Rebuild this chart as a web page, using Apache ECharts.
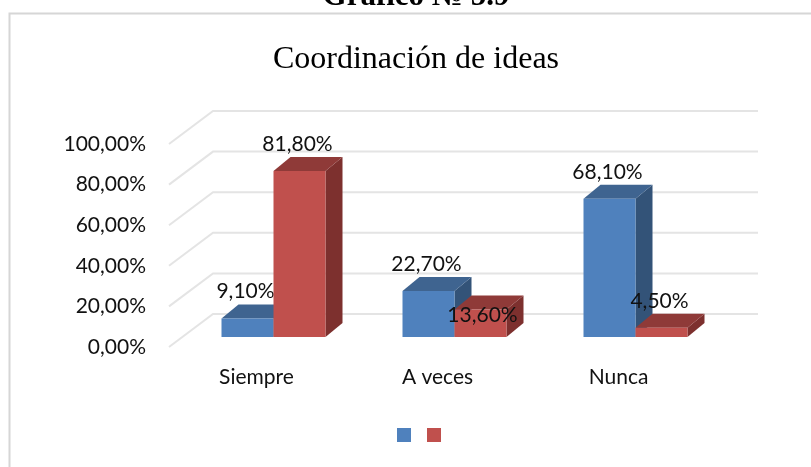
<!DOCTYPE html>
<html>
<head>
<meta charset="utf-8">
<style>html,body{margin:0;padding:0;background:#fff}#c{width:811px;height:467px}</style>
<script src="https://cdn.jsdelivr.net/npm/echarts@6/dist/echarts.min.js"></script>
</head>
<body>
<div id="c"></div>
<script>
const categories = ['Siempre', 'A veces', 'Nunca'];
const seriesA = [9.1, 22.7, 68.1];
const seriesB = [81.8, 13.6, 4.5];
const gridTicks = [0, 20, 40, 60, 80, 100];
const heading = 'Gráfico № 5.9';
const chartTitle = 'Coordinación de ideas';

const uiFont = 'Lato';
const palette = [
  {front: '#4f81bd', top: '#3f6490', side: '#335378'},
  {front: '#c0504d', top: '#8f3a38', side: '#7d302e'}
];
const BAR_W = 52, BAR_DX = 17, BAR_DY = -10, DEPTH_X = 17, DEPTH_Y = -14, WALL_DX = 47, WALL_DY = -33;

const fmt = v => v.toFixed(2).replace('.', ',') + '%';

function barRenderer(s) {
  return function (params, api) {
    const idx = api.value(0), val = api.value(1);
    const top = api.coord([idx, val]);
    const base = api.coord([idx, 0]);
    const c = palette[s];
    const x0 = top[0] + BAR_DX + (s === 0 ? -BAR_W : 0);
    const x1 = x0 + BAR_W;
    const yT = top[1] + BAR_DY;
    const yB = base[1] + BAR_DY;
    const dx = DEPTH_X, dy = DEPTH_Y;
    const moved = s === 1 && idx === 1;
    return {
      type: 'group',
      children: [
        {type: 'polygon', shape: {points: [[x1, yT], [x1 + dx, yT + dy], [x1 + dx, yB + dy], [x1, yB]]}, style: {fill: c.side}},
        {type: 'polygon', shape: {points: [[x0, yT], [x0 + dx, yT + dy], [x1 + dx, yT + dy], [x1, yT]]}, style: {fill: c.top}},
        {type: 'rect', shape: {x: x0, y: yT, width: BAR_W, height: yB - yT}, style: {fill: c.front}},
        {type: 'text', z2: 50, style: {
          x: (x0 + x1) / 2 + (moved ? 2 : -2), y: moved ? yT + 6 : yT - 27,
          text: fmt(val), align: 'center', verticalAlign: 'middle',
          font: '21px ' + uiFont, fill: '#111'
        }}
      ]
    };
  };
}

function wallRenderer(params, api) {
  const y = api.coord([0, api.value(0)])[1];
  const sys = params.coordSys;
  const xL = sys.x + 3;
  const xB = sys.x + WALL_DX;
  return {
    type: 'polyline',
    shape: {points: [[xL, y], [xB, y + WALL_DY], [sys.x + sys.width + WALL_DX + 2, y + WALL_DY]]},
    style: {stroke: '#e4e4e4', lineWidth: 2, fill: null}
  };
}

const chart = echarts.init(document.getElementById('c'), null, {renderer: 'canvas'});
chart.setOption({
  animation: false,
  backgroundColor: '#fff',
  title: [
    {text: heading, left: 411, top: -24, textAlign: 'center',
      textStyle: {fontFamily: 'Liberation Serif', fontWeight: 'bold', fontSize: 31, color: '#000'}},
    {text: chartTitle, left: 411, top: 39, textAlign: 'center',
      textStyle: {fontFamily: 'Liberation Serif', fontWeight: 'normal', fontSize: 32, color: '#000'}}
  ],
  grid: {left: 166, width: 543, top: 144, height: 203},
  xAxis: {
    type: 'category', data: categories,
    axisLine: {show: false}, axisTick: {show: false}, splitLine: {show: false},
    axisLabel: {margin: 20, fontFamily: uiFont, fontSize: 21, color: '#111'}
  },
  yAxis: {
    type: 'value', min: 0, max: 100, interval: 20,
    axisLine: {show: false}, axisTick: {show: false}, splitLine: {show: false},
    axisLabel: {margin: 20, fontFamily: uiFont, fontSize: 21, color: '#111', formatter: v => fmt(v)}
  },
  legend: {
    left: 392, top: 423, itemWidth: 14, itemHeight: 14, itemGap: 16,
    icon: 'rect', formatter: () => '', data: ['Serie 1', 'Serie 2'],
    textStyle: {fontSize: 1}
  },
  graphic: [
    {type: 'polyline', silent: true, shape: {points: [[9.5, 467], [9.5, 13.5], [811, 13.5]]},
      style: {stroke: '#d6d6d6', lineWidth: 2, fill: null}}
  ],
  series: [
    {type: 'custom', name: 'Pared', renderItem: wallRenderer, data: gridTicks.map(v => [v]),
      encode: {y: 0}, silent: true, z: 1, tooltip: {show: false}},
    {type: 'custom', name: 'Serie 1', renderItem: barRenderer(0), itemStyle: {color: palette[0].front},
      data: seriesA.map((v, i) => [i, v]), encode: {x: 0, y: 1}, z: 2},
    {type: 'custom', name: 'Serie 2', renderItem: barRenderer(1), itemStyle: {color: palette[1].front},
      data: seriesB.map((v, i) => [i, v]), encode: {x: 0, y: 1}, z: 3}
  ]
});
</script>
</body>
</html>
